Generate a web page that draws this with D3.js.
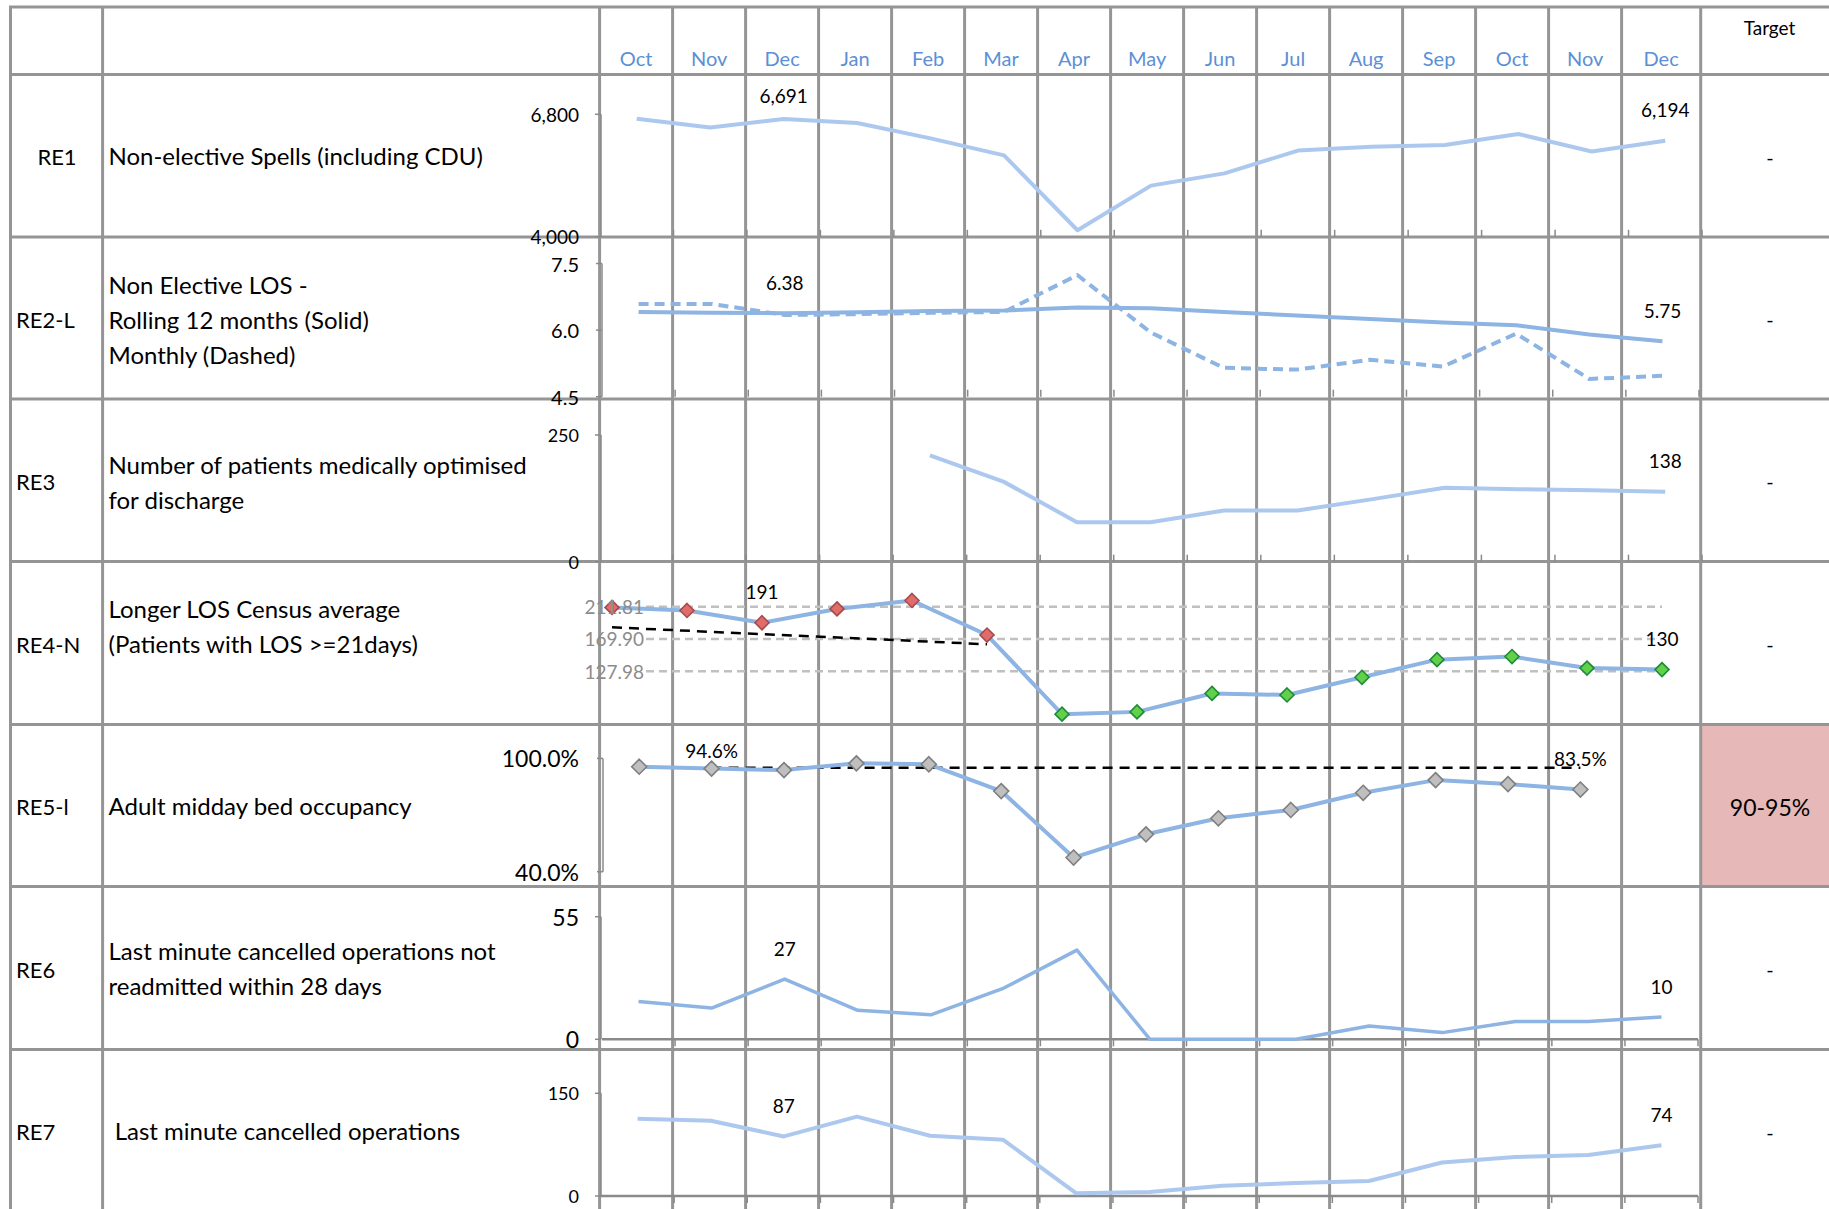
<!DOCTYPE html>
<html>
<head>
<meta charset="utf-8">
<script src="https://cdn.jsdelivr.net/npm/d3@7"></script>
<style>
  html, body { margin: 0; padding: 0; background: #fff; }
  svg { display: block; font-family: Lato, "Open Sans", sans-serif; }
  text { white-space: pre; }
</style>
</head>
<body>
<svg id="chart" width="1829" height="1209"></svg>
<script>
// ---- table content ----
const months = ["Oct","Nov","Dec","Jan","Feb","Mar","Apr","May","Jun","Jul","Aug","Sep","Oct","Nov","Dec"];
const codes = ["RE1","RE2-L","RE3","RE4-N","RE5-l","RE6","RE7"];
const titles = [
  ["Non-elective Spells (including CDU)"],
  ["Non Elective LOS -", "Rolling 12 months (Solid)", "Monthly (Dashed)"],
  ["Number of patients medically optimised", "for discharge"],
  ["Longer LOS Census average", "(Patients with LOS >=21days)"],
  ["Adult midday bed occupancy"],
  ["Last minute cancelled operations not", "readmitted within 28 days"],
  [" Last minute cancelled operations"]
];
const targets = ["-","-","-","-","90-95%","-","-"];

// ---- series values (one per month column) ----
const re1Spells     = [6700, 6500, 6691, 6600, 6250, 5860, 4150, 5170, 5450, 5970, 6060, 6100, 6350, 5950, 6194];
const re2Rolling    = [6.41, 6.39, 6.38, 6.40, 6.43, 6.44, 6.51, 6.49, 6.41, 6.33, 6.25, 6.17, 6.11, 5.90, 5.75];
const re2Monthly    = [6.59, 6.59, 6.34, 6.36, 6.39, 6.41, 7.24, 5.95, 5.15, 5.11, 5.33, 5.18, 5.92, 4.90, 4.97];
const re3Optimised  = [null, null, null, null, 210, 158, 78, 78, 101, 101, 123, 146, 143, 141, 138];
const re4Census     = [211, 207, 191, 209, 220, 175, 72, 75, 99, 97, 120, 143, 147, 132, 130];
const re4Limits     = [211.81, 169.90, 127.98];   // upper, mean, lower
const re4TrendIdx   = [0, 5];
const re4TrendVal   = [185, 163];
const re5Occupancy  = [95.6, 94.6, 93.8, 97.4, 96.9, 82.7, 47.5, 59.8, 68.3, 72.7, 81.8, 88.5, 86.4, 83.5, null];
const re5CapIdx     = [1, 13];
const re5CapVal     = [95, 95];
const re6Cancelled28 = [17, 14, 27, 13, 11, 23, 40, 0, 0, 0, 6, 3, 8, 8, 10];
const re7Cancelled  = [113, 110, 87, 116, 88, 82, 4, 6, 15, 19, 22, 49, 57, 60, 74];

// ---- axis ticks ----
const re1Ticks = [4000, 6800];
const re2Ticks = [4.5, 6.0, 7.5];
const re3Ticks = [0, 250];
const re5Ticks = [40, 100];
const re6Ticks = [0, 55];
const re7Ticks = [0, 150];

// ---- layout ----
const W = 1829, H = 1209;
const rowLines = [7, 74.5, 237, 399, 561.5, 724.5, 886.5, 1049.5, 1212];
const tableLeft = 10.5, codeRight = 102.6, chartLeft = 599.6, colW = 73.0, targetLeft = 1700.7;
const colLines = [tableLeft, codeRight]
  .concat(d3.range(15).map(i => chartLeft + i * colW))
  .concat([targetLeft]);
const gridColor = "#959595";
const lightBlue = "#adc8ee", midBlue = "#8db4e2";
const axisColor = "#8a8a8a";
const CODE_FONT = 22, TITLE_FONT = 24;

const svg = d3.select("#chart");
svg.append("rect").attr("width", W).attr("height", H).attr("fill", "#fff");

// target cell shading for bed occupancy
svg.append("rect")
  .attr("x", targetLeft).attr("y", rowLines[5])
  .attr("width", W - targetLeft).attr("height", rowLines[6] - rowLines[5])
  .attr("fill", "#e6b8b7");

// grid
const grid = svg.append("g").attr("stroke", gridColor).attr("stroke-width", 3);
rowLines.forEach(y => grid.append("line").attr("x1", tableLeft - 1.5).attr("x2", W).attr("y1", y).attr("y2", y));
colLines.forEach(x => grid.append("line").attr("x1", x).attr("x2", x).attr("y1", rowLines[0]).attr("y2", H));

// header
const colCenters = d3.range(15).map(i => (colLines[i + 2] + colLines[i + 3]) / 2);
svg.append("g").selectAll("text").data(months).join("text")
  .attr("x", (d, i) => colCenters[i]).attr("y", 58)
  .attr("text-anchor", "middle").attr("dominant-baseline", "central")
  .attr("font-size", 20).attr("fill", "#5b8fd6").text(d => d);
svg.append("text").attr("x", 1769.5).attr("y", 27)
  .attr("text-anchor", "middle").attr("dominant-baseline", "central")
  .attr("font-size", 19).text("Target");

// row labels
const rowMid = i => (rowLines[i + 1] + rowLines[i + 2]) / 2;
const titleShift = [0, 1.5, 1.5, -17, 0, 0, 0];
codes.forEach((c, i) => {
  const centred = i === 0;
  svg.append("text")
    .attr("x", centred ? 57 : 16).attr("y", rowMid(i) + 1)
    .attr("text-anchor", centred ? "middle" : "start")
    .attr("dominant-baseline", "central").attr("font-size", CODE_FONT).text(c);
  const lines = titles[i];
  lines.forEach((t, k) => {
    svg.append("text")
      .attr("x", 108.5)
      .attr("y", rowMid(i) + titleShift[i] + (k - (lines.length - 1) / 2) * 35)
      .attr("dominant-baseline", "central").attr("font-size", TITLE_FONT).text(t);
  });
  svg.append("text")
    .attr("x", 1770).attr("y", rowMid(i) + 1)
    .attr("text-anchor", "middle").attr("dominant-baseline", "central")
    .attr("font-size", targets[i] === "-" ? 20 : 23).text(targets[i]);
});

// ---- chart helpers ----
function diamond(g, x, y, fill, stroke, r) {
  g.append("path")
    .attr("d", `M${x},${y - r}L${x + r},${y}L${x},${y + r}L${x - r},${y}Z`)
    .attr("fill", fill).attr("stroke", stroke).attr("stroke-width", 1.6);
}

function drawChart(cfg) {
  const g = svg.append("g");
  let x, cx;
  if (cfg.pointScale) {
    x = d3.scalePoint().domain(d3.range(15)).range(cfg.xRange);
    cx = i => x(i);
  } else {
    x = d3.scaleBand().domain(d3.range(15)).range(cfg.xRange);
    cx = i => x(i) + x.bandwidth() / 2;
  }
  const y = d3.scaleLinear().domain(cfg.yDomain).range(cfg.yRange);

  // category axis
  if (cfg.xAxis) {
    const ay = y(cfg.yDomain[0]);
    if (cfg.xAxis.line) {
      g.append("line").attr("x1", cfg.xRange[0]).attr("x2", cfg.xRange[1])
        .attr("y1", ay).attr("y2", ay).attr("stroke", axisColor).attr("stroke-width", 2.5);
    }
    const edges = d3.range(15).map(i => x(i)).concat([x(14) + x.bandwidth()]);
    g.selectAll("line.tick").data(edges.slice(1)).join("line")
      .attr("x1", d => d).attr("x2", d => d)
      .attr("y1", ay).attr("y2", ay + cfg.xAxis.dir * 7)
      .attr("stroke", axisColor).attr("stroke-width", 1.5);
  }

  // value axis
  if (cfg.yTicks) {
    const ax = cfg.axisX;
    g.append("line").attr("x1", ax).attr("x2", ax)
      .attr("y1", y(cfg.yDomain[1])).attr("y2", y(cfg.yDomain[0]))
      .attr("stroke", axisColor).attr("stroke-width", 1.5);
    cfg.yTicks.forEach(t => {
      g.append("line").attr("x1", ax - 6).attr("x2", ax)
        .attr("y1", y(t)).attr("y2", y(t)).attr("stroke", axisColor).attr("stroke-width", 1.5);
      g.append("text").attr("x", 579).attr("y", y(t))
        .attr("text-anchor", "end").attr("dominant-baseline", "central")
        .attr("font-size", cfg.tickFont).text(cfg.tickFmt(t));
    });
  }

  if (cfg.before) cfg.before(g, cx, y);

  cfg.series.forEach(s => {
    const line = d3.line().defined(v => v != null).x((v, i) => cx(i)).y(v => y(v));
    g.append("path").attr("d", line(s.values))
      .attr("fill", "none").attr("stroke", s.color).attr("stroke-width", s.width)
      .attr("stroke-linejoin", "round")
      .attr("stroke-dasharray", s.dash || null);
  });

  if (cfg.after) cfg.after(g, cx, y);

  // value labels
  const lab = cfg.labels;
  lab.idx.forEach(i => {
    const v = lab.values[i];
    const ly = Math.max(y(v) - 31, lab.top != null ? lab.top : -Infinity);
    g.append("text").attr("x", cx(i)).attr("y", ly)
      .attr("text-anchor", "middle").attr("dominant-baseline", "central")
      .attr("font-size", 19).text(lab.fmt(v));
  });
}

// RE1
drawChart({
  xRange: [600, 1702], yDomain: [4000, 6800], yRange: [236.8, 114.3],
  yTicks: re1Ticks, tickFmt: d3.format(","), tickFont: 19, axisX: 601,
  xAxis: { dir: -1 },
  series: [{ values: re1Spells, color: lightBlue, width: 4 }],
  labels: { values: re1Spells, idx: [2, 14], fmt: d3.format(","), top: 95.6 }
});

// RE2
drawChart({
  xRange: [602, 1699], yDomain: [4.5, 7.5], yRange: [396.7, 263.5],
  yTicks: re2Ticks, tickFmt: d3.format(".1f"), tickFont: 20, axisX: 602,
  xAxis: { dir: -1 },
  series: [
    { values: re2Rolling, color: midBlue, width: 4 },
    { values: re2Monthly, color: midBlue, width: 4, dash: "10,6" }
  ],
  labels: { values: re2Rolling, idx: [2, 14], fmt: d3.format(".2f") }
});

// RE3
drawChart({
  xRange: [599, 1702], yDomain: [0, 250], yRange: [561.7, 435],
  yTicks: re3Ticks, tickFmt: d3.format("d"), tickFont: 18, axisX: 601,
  xAxis: { dir: -1 },
  series: [{ values: re3Optimised, color: lightBlue, width: 4 }],
  labels: { values: re3Optimised, idx: [14], fmt: d3.format("d") }
});

// RE4 - census with control limits
drawChart({
  pointScale: true,
  xRange: [612, 1662], yDomain: [60, 240], yRange: [723.4, 585.1],
  before: (g, cx, y) => {
    re4Limits.forEach(v => {
      g.append("line").attr("x1", 646).attr("x2", cx(14))
        .attr("y1", y(v)).attr("y2", y(v))
        .attr("stroke", "#c0c0c0").attr("stroke-width", 2.5).attr("stroke-dasharray", "8,5");
    });
    const tl = d3.line().x((v, k) => cx(re4TrendIdx[k])).y(v => y(v));
    g.append("path").attr("d", tl(re4TrendVal)).attr("fill", "none")
      .attr("stroke", "#000").attr("stroke-width", 2.5).attr("stroke-dasharray", "10,7");
  },
  series: [{ values: re4Census, color: midBlue, width: 4 }],
  after: (g, cx, y) => {
    re4Census.forEach((v, i) => {
      const above = v > re4Limits[1];
      diamond(g, cx(i), y(v), above ? "#e26b6b" : "#62d14a", above ? "#a34c4c" : "#1f8a3a", 7);
    });
    re4Limits.forEach(v => {
      g.append("text").attr("x", 644).attr("y", y(v))
        .attr("text-anchor", "end").attr("dominant-baseline", "central")
        .attr("font-size", 19).attr("fill", "#8c8c8c").text(d3.format(".2f")(v));
    });
  },
  labels: { values: re4Census, idx: [2, 14], fmt: d3.format("d") }
});

// RE5 - bed occupancy
drawChart({
  xRange: [603, 1689], yDomain: [40, 100], yRange: [871.7, 758.4],
  yTicks: re5Ticks, tickFmt: v => d3.format(".1%")(v / 100), tickFont: 23, axisX: 603,
  before: (g, cx, y) => {
    const cl = d3.line().x((v, k) => cx(re5CapIdx[k])).y(v => y(v));
    g.append("path").attr("d", cl(re5CapVal)).attr("fill", "none")
      .attr("stroke", "#000").attr("stroke-width", 2.5).attr("stroke-dasharray", "10,7");
  },
  series: [{ values: re5Occupancy, color: midBlue, width: 4 }],
  after: (g, cx, y) => {
    re5Occupancy.forEach((v, i) => {
      if (v != null) diamond(g, cx(i), y(v), "#bfbfbf", "#7f7f7f", 7.5);
    });
  },
  labels: { values: re5Occupancy, idx: [1, 13], fmt: v => d3.format(".1%")(v / 100), top: 750 }
});

// RE6
drawChart({
  xRange: [602, 1698], yDomain: [0, 55], yRange: [1039.3, 916.7],
  yTicks: re6Ticks, tickFmt: d3.format("d"), tickFont: 23, axisX: 601,
  xAxis: { dir: 1, line: true },
  series: [{ values: re6Cancelled28, color: midBlue, width: 3.5 }],
  labels: { values: re6Cancelled28, idx: [2, 14], fmt: d3.format("d") }
});

// RE7
drawChart({
  xRange: [601, 1698], yDomain: [0, 150], yRange: [1196, 1093.3],
  yTicks: re7Ticks, tickFmt: d3.format("d"), tickFont: 18, axisX: 601,
  xAxis: { dir: 1, line: true },
  series: [{ values: re7Cancelled, color: lightBlue, width: 4 }],
  labels: { values: re7Cancelled, idx: [2, 14], fmt: d3.format("d") }
});
</script>
</body>
</html>
